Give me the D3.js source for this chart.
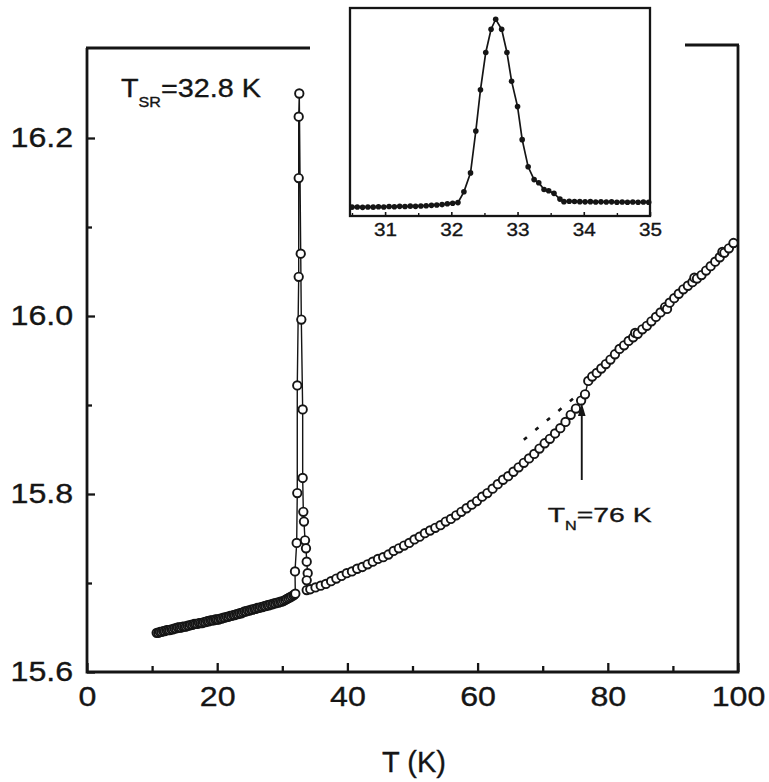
<!DOCTYPE html>
<html>
<head>
<meta charset="utf-8">
<script src="https://cdn.jsdelivr.net/npm/d3@7"></script>
<style>
  body { margin: 0; background: #fff; }
  svg { display: block; }
  text { font-family: "Liberation Sans", Arial, Helvetica, sans-serif; fill: #151515; stroke: #151515; stroke-width: 0.35px; }
</style>
</head>
<body>
<svg id="chart" width="769" height="782"></svg>
<script>
// ---- Data: lattice parameter (Å) versus temperature T (K) ----
// Low-temperature branch, 10.7 K up to the spin-reorientation spike
const lowBand = [
  [10.70,15.644],[10.95,15.644],[11.20,15.645],[11.45,15.645],[11.70,15.646],[11.95,15.646],
  [12.20,15.647],[12.45,15.647],[12.70,15.647],[12.95,15.648],[13.20,15.648],[13.45,15.649],
  [13.70,15.649],[13.95,15.650],[14.20,15.650],[14.45,15.650],[14.70,15.651],[14.95,15.651],
  [15.20,15.651],[15.45,15.652],[15.70,15.652],[15.95,15.653],[16.20,15.653],[16.45,15.654],
  [16.70,15.654],[16.95,15.654],[17.20,15.655],[17.45,15.655],[17.70,15.655],[17.95,15.656],
  [18.20,15.656],[18.45,15.657],[18.70,15.657],[18.95,15.658],[19.20,15.658],[19.45,15.658],
  [19.70,15.659],[19.95,15.659],[20.20,15.659],[20.45,15.660],[20.70,15.660],[20.95,15.661],
  [21.20,15.661],[21.45,15.662],[21.70,15.662],[21.95,15.663],[22.20,15.663],[22.45,15.664],
  [22.70,15.664],[22.95,15.665],[23.20,15.665],[23.45,15.666],[23.70,15.666],[23.95,15.667],
  [24.20,15.668],[24.45,15.668],[24.70,15.669],[24.95,15.669],[25.20,15.670],[25.45,15.670],
  [25.70,15.671],[25.95,15.671],[26.20,15.672],[26.45,15.672],[26.70,15.673],[26.95,15.673],
  [27.20,15.674],[27.45,15.674],[27.70,15.675],[27.95,15.675],[28.20,15.676],[28.45,15.676],
  [28.70,15.677],[28.95,15.677],[29.20,15.678],[29.45,15.678],[29.70,15.679],[29.95,15.679],
  [30.20,15.680],[30.45,15.681],[30.70,15.682],[30.95,15.683],[31.20,15.684],[31.45,15.685],
  [31.70,15.686],[31.85,15.687],[32.00,15.688]
];
// Points across the sharp peak near T_SR, in measurement order
const spike = [
  [31.95,15.713],[32.21,15.745],[32.30,15.801],[32.30,15.922],[32.52,16.044],[32.52,16.155],
  [32.52,16.224],[32.61,16.250],[32.83,16.070],[32.92,15.996],[33.13,15.895],[33.13,15.818],
  [33.23,15.780],[33.33,15.769],[33.49,15.748],[33.64,15.739],[33.75,15.724],[33.90,15.711],
  [33.75,15.703],[33.75,15.692]
];
// High-temperature branch, through T_N up to 100 K
const upperCurve = [
  [34.3,15.693],[35.1,15.695],[35.9,15.697],[36.7,15.699],[37.5,15.702],[38.3,15.705],
  [39.1,15.708],[39.9,15.711],[40.7,15.713],[41.5,15.716],[42.3,15.718],[43.1,15.721],
  [43.9,15.724],[44.7,15.727],[45.5,15.729],[46.3,15.732],[47.1,15.736],[47.9,15.739],
  [48.7,15.742],[49.5,15.745],[50.3,15.749],[51.1,15.752],[51.9,15.756],[52.7,15.759],
  [53.5,15.762],[54.3,15.765],[55.1,15.769],[55.9,15.772],[56.7,15.776],[57.5,15.780],
  [58.3,15.784],[59.1,15.788],[59.9,15.792],[60.7,15.797],[61.5,15.801],[62.3,15.806],
  [63.1,15.811],[63.9,15.816],[64.7,15.820],[65.5,15.825],[66.3,15.830],[67.1,15.835],
  [67.9,15.840],[68.7,15.845],[69.5,15.851],[70.3,15.857],[71.1,15.862],[71.9,15.868],
  [72.7,15.874],[73.5,15.881],[74.3,15.889],[75.1,15.896],[75.9,15.905],[76.5,15.912],
  [77.0,15.927],[77.6,15.932],[78.3,15.936],[79.0,15.941],[79.7,15.946],[80.4,15.951],
  [81.1,15.957],[81.8,15.963],[82.5,15.967],[83.2,15.972],[83.9,15.976],[84.2,15.981],
  [84.6,15.980],[85.3,15.985],[86.0,15.989],[86.7,15.994],[87.4,15.999],[88.1,16.004],
  [88.8,16.010],[89.1,16.008],[89.5,16.015],[90.2,16.020],[90.9,16.025],[91.6,16.030],
  [92.3,16.034],[93.0,16.038],[93.3,16.043],[93.7,16.042],[94.4,16.046],[95.1,16.051],
  [95.8,16.056],[96.5,16.061],[97.2,16.066],[97.6,16.072],[97.9,16.071],[98.6,16.076],
  [99.3,16.082]
];
// Extrapolation of the paramagnetic trend below T_N (dashed)
const dashedGuide = [[67.1,15.861],[75.3,15.911]];

const xTicks = [0, 20, 40, 60, 80, 100];
const xMinorTicks = [10, 30, 50, 70, 90];
const yTicks = [15.6, 15.8, 16.0, 16.2];
const yMinorTicks = [15.7, 15.9, 16.1];

// Inset: peak profile around T_SR (arbitrary units)
const insetData = [
  [30.50,0.045],[30.58,0.046],[30.66,0.044],[30.74,0.046],[30.82,0.045],[30.90,0.047],
  [30.98,0.046],[31.06,0.048],[31.14,0.047],[31.22,0.049],[31.30,0.048],[31.38,0.050],
  [31.46,0.049],[31.54,0.051],[31.62,0.052],[31.70,0.054],[31.78,0.056],[31.86,0.058],
  [31.94,0.062],[32.02,0.065],[32.10,0.068],[32.19,0.123],[32.29,0.219],[32.37,0.432],
  [32.44,0.641],[32.52,0.831],[32.60,0.949],[32.67,1.000],[32.76,0.949],[32.84,0.831],
  [32.91,0.685],[33.00,0.556],[33.07,0.388],[33.16,0.250],[33.25,0.185],[33.32,0.169],
  [33.40,0.135],[33.47,0.128],[33.55,0.115],[33.64,0.086],[33.70,0.073],[33.78,0.075],
  [33.86,0.074],[33.94,0.073],[34.02,0.072],[34.10,0.073],[34.18,0.071],[34.26,0.072],
  [34.34,0.071],[34.42,0.072],[34.50,0.070],[34.58,0.071],[34.66,0.070],[34.74,0.071],
  [34.82,0.070],[34.90,0.071],[34.98,0.070]
];
const insetTicks = [31, 32, 33, 34, 35];
const insetMinorTicks = [30.5, 31.5, 32.5, 33.5, 34.5];

const tSR = 32.8;   // spin reorientation temperature (K)
const tN = 76;      // Néel temperature (K)

// ---- Scales ----
const svg = d3.select("#chart");
const x = d3.scaleLinear().domain([0, 100]).range([87, 738]);
const y = d3.scaleLinear().domain([15.6, 16.3]).range([672, 49]);
const INK = "#151515";
const STRETCH = 1.15;

// ---- Frame (top edge broken where the inset sits) ----
const frame = svg.append("g").attr("stroke", INK).attr("stroke-width", 2.8).attr("fill", "none");
frame.append("path").attr("d", `M${x(0)},${y(16.3) - 1}V${y(15.6)}H${x(100)}V${y(16.3) - 4}`);
frame.append("line").attr("x1", x(0) - 1).attr("x2", 310).attr("y1", y(16.3) - 1).attr("y2", y(16.3) - 1);
frame.append("line").attr("x1", 685).attr("x2", x(100) + 1).attr("y1", y(16.3) - 4).attr("y2", y(16.3) - 4);

// ---- Axes with inward ticks ----
function styleAxis(g) {
  g.select(".domain").remove();
  g.selectAll(".tick line").attr("stroke", INK).attr("stroke-width", 2.3);
  g.attr("font-family", null).attr("font-size", null);
}
const gx = svg.append("g").attr("transform", `translate(0,${y(15.6)})`)
  .call(d3.axisBottom(x).tickValues(xTicks).tickSize(-9).tickPadding(14).tickFormat(d3.format("d")))
  .call(styleAxis);
gx.selectAll(".tick text").attr("font-size", 28).attr("transform", `scale(${STRETCH},1)`);
svg.append("g").attr("transform", `translate(0,${y(15.6)})`)
  .call(d3.axisBottom(x).tickValues(xMinorTicks).tickSize(-6).tickFormat(""))
  .call(styleAxis);

const gy = svg.append("g").attr("transform", `translate(${x(0)},0)`)
  .call(d3.axisLeft(y).tickValues(yTicks).tickSize(-8).tickPadding(12).tickFormat(d3.format(".1f")))
  .call(styleAxis);
gy.selectAll(".tick text").attr("font-size", 28).attr("transform", `scale(${STRETCH},1)`);
svg.append("g").attr("transform", `translate(${x(0)},0)`)
  .call(d3.axisLeft(y).tickValues(yMinorTicks).tickSize(-5).tickFormat(""))
  .call(styleAxis);

svg.append("text").attr("x", 414).attr("y", 772).attr("text-anchor", "middle")
  .attr("font-size", 29).text("T (K)");

// ---- Main data ----
const series = lowBand.concat(spike, upperCurve);
const line = d3.line().x(d => x(d[0])).y(d => y(d[1]));

svg.append("path").datum(dashedGuide).attr("d", line)
  .attr("fill", "none").attr("stroke", INK).attr("stroke-width", 2.6).attr("stroke-dasharray", "4,11");

svg.append("path").datum(series).attr("d", line)
  .attr("fill", "none").attr("stroke", INK).attr("stroke-width", 1.4);

svg.append("g").selectAll("circle").data(series).join("circle")
  .attr("cx", d => x(d[0])).attr("cy", d => y(d[1])).attr("r", 4.2)
  .attr("fill", "#fff").attr("stroke", INK).attr("stroke-width", 1.9);

// ---- Annotations ----
const sr = svg.append("text").attr("transform", `translate(121,97) scale(${STRETCH},1)`).attr("font-size", 25);
sr.append("tspan").text("T");
sr.append("tspan").attr("font-size", 14).attr("dy", 10).text("SR");
sr.append("tspan").attr("dy", -10).text(`=${tSR} K`);

// arrow marking T_N
const ax = x(tN);
svg.append("line").attr("x1", ax).attr("x2", ax).attr("y1", 480).attr("y2", 412)
  .attr("stroke", INK).attr("stroke-width", 1.9);
svg.append("path").attr("d", `M${ax},403L${ax - 3.8},416L${ax + 3.8},416Z`).attr("fill", INK);

const tn = svg.append("text").attr("transform", `translate(${ax - 34},522) scale(1.35,1)`).attr("font-size", 21);
tn.append("tspan").text("T");
tn.append("tspan").attr("font-size", 12).attr("dy", 8).text("N");
tn.append("tspan").attr("dy", -8).text(`=${tN} K`);

// ---- Inset ----
const ix = d3.scaleLinear().domain([30.47, 35]).range([350, 650]);
const iy = d3.scaleLinear().domain([0, 1.057]).range([216, 8]);
const inset = svg.append("g");
inset.append("rect").attr("x", ix.range()[0]).attr("y", iy.range()[1])
  .attr("width", ix.range()[1] - ix.range()[0]).attr("height", iy.range()[0] - iy.range()[1])
  .attr("fill", "#fff").attr("stroke", INK).attr("stroke-width", 2.3);

const gix = inset.append("g").attr("transform", `translate(0,${iy(0)})`)
  .call(d3.axisBottom(ix).tickValues(insetTicks).tickSize(-4).tickPadding(7).tickFormat(d3.format("d")))
  .call(styleAxis);
gix.selectAll(".tick text").attr("font-size", 18).attr("transform", `scale(${STRETCH},1)`);
gix.selectAll(".tick line").attr("stroke-width", 1.6);
inset.append("g").attr("transform", `translate(0,${iy(0)})`)
  .call(d3.axisBottom(ix).tickValues(insetMinorTicks).tickSize(-3).tickFormat(""))
  .call(styleAxis)
  .selectAll(".tick line").attr("stroke-width", 1.4);

const iline = d3.line().x(d => ix(d[0])).y(d => iy(d[1]));
inset.append("path").datum(insetData).attr("d", iline)
  .attr("fill", "none").attr("stroke", INK).attr("stroke-width", 1.7);
inset.append("g").selectAll("circle").data(insetData).join("circle")
  .attr("cx", d => ix(d[0])).attr("cy", d => iy(d[1])).attr("r", 2.8).attr("fill", INK);
</script>
</body>
</html>
